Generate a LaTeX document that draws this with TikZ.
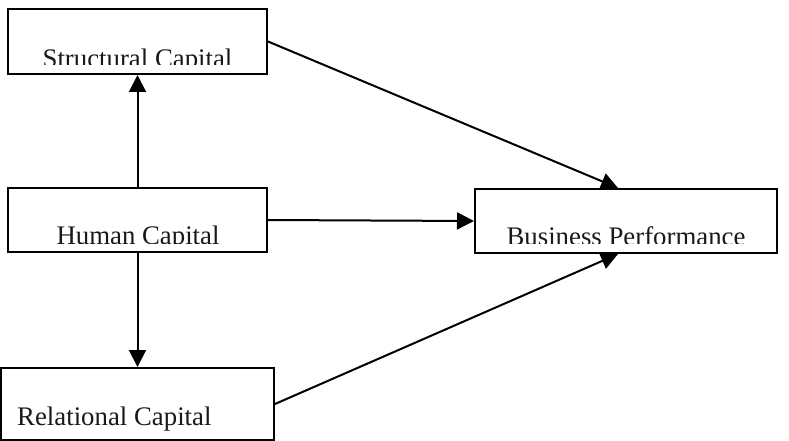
\documentclass[tikz,border=0pt]{standalone}
\usepackage{fontspec}
\setmainfont{Liberation Serif}
\usetikzlibrary{arrows.meta,calc}
\tikzset{
  box/.style={draw=black, line width=2pt, rectangle, inner sep=0pt, fill=white},
  lbl/.style={inner sep=0pt, anchor=base, font=\fontsize{26.8}{30}\selectfont, text=black!90},
  arr/.style={line width=2pt, -{Triangle[length=17pt,width=17pt]}}
}
\begin{document}
\begin{tikzpicture}[x=1pt,y=1pt]
\useasboundingbox (0,0) rectangle (789,-441);
% boxes
\node[box, minimum width=259pt, minimum height=65pt] (sc) at (137.5,-41.5) {};
\node[box, minimum width=259pt, minimum height=64pt] (hc) at (137.5,-220) {};
\node[box, minimum width=302pt, minimum height=64pt] (bc) at (626,-221) {};
\node[box, minimum width=273pt, minimum height=72pt] (rc) at (137.5,-404) {};
% texts (clipped as in the reference)
\begin{scope}
  \clip (9,-10) rectangle (266,-65);
  \node[lbl] (sct) at (137.5,-67.5) {Structural Capital};
\end{scope}
\begin{scope}
  \clip (9,-189) rectangle (266,-243);
  \node[lbl] (hct) at (138,-244.5) {Human Capital};
\end{scope}
\begin{scope}
  \clip (476,-190) rectangle (776,-243);
  \node[lbl] (bct) at (626,-245.5) {Business Performance};
\end{scope}
\node[lbl, anchor=base west] (rct) at (17,-425) {Relational Capital};
% connectors
\draw[arr] (hc.north) -- (sc.south);
\draw[arr] (hc.south) -- (rc.north);
\draw[arr] (sc.east) -- ($(bc.north)+(-8,0)$);
\draw[arr] (hc.east) -- (bc.west);
\draw[arr] (rc.east) -- ($(bc.south)+(-8,0)$);
\end{tikzpicture}
\end{document}
